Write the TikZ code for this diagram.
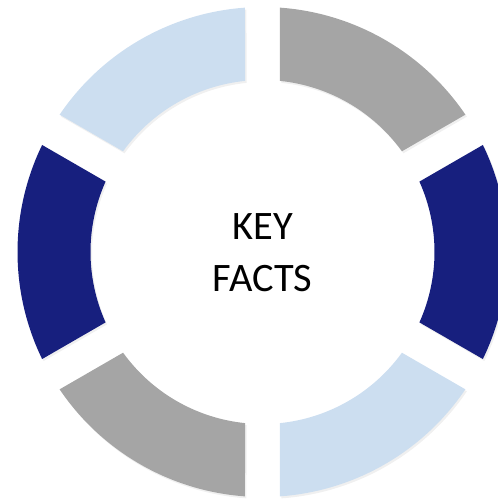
\documentclass[tikz,border=0pt]{standalone}
\usepackage{fontspec}
\setmainfont{Carlito}
\definecolor{keynavy}{HTML}{171F7E}
\definecolor{keygray}{HTML}{A5A5A5}
\definecolor{keylight}{HTML}{CCDEF0}

\begin{document}
\begin{tikzpicture}[x=0.02cm,y=0.02cm]
%\draw[help lines] (-262.5,-249) grid (235.5,252);
\def\Rout{245}
\def\Rin{172}
\pgfmathsetmacro{\dout}{asin(17.5/\Rout)}
\pgfmathsetmacro{\din}{asin(17.5/\Rin)}

\useasboundingbox (-262.5,-249) rectangle (235.5,252);
\clip (-262.5,-249) rectangle (235.5,252);

\foreach \a/\col in {30/keygray,-30/keynavy,-90/keylight,-150/keygray,150/keynavy,90/keylight}{
  \fill[black,opacity=.06,shift={(1.5,-2)}] (\a+\dout:\Rout) arc[start angle=\a+\dout,end angle=\a+60-\dout,radius=\Rout]
    -- (\a+60-\din:\Rin) arc[start angle=\a+60-\din,end angle=\a+\din,radius=\Rin] -- cycle;
  \fill[\col] (\a+\dout:\Rout) arc[start angle=\a+\dout,end angle=\a+60-\dout,radius=\Rout]
    -- (\a+60-\din:\Rin) arc[start angle=\a+60-\din,end angle=\a+\din,radius=\Rin] -- cycle;
}

\node[align=center,font=\fontsize{23}{29.6}\selectfont] (keyfacts) at (0,-1) {KEY\\FACTS};

\end{tikzpicture}
\end{document}
